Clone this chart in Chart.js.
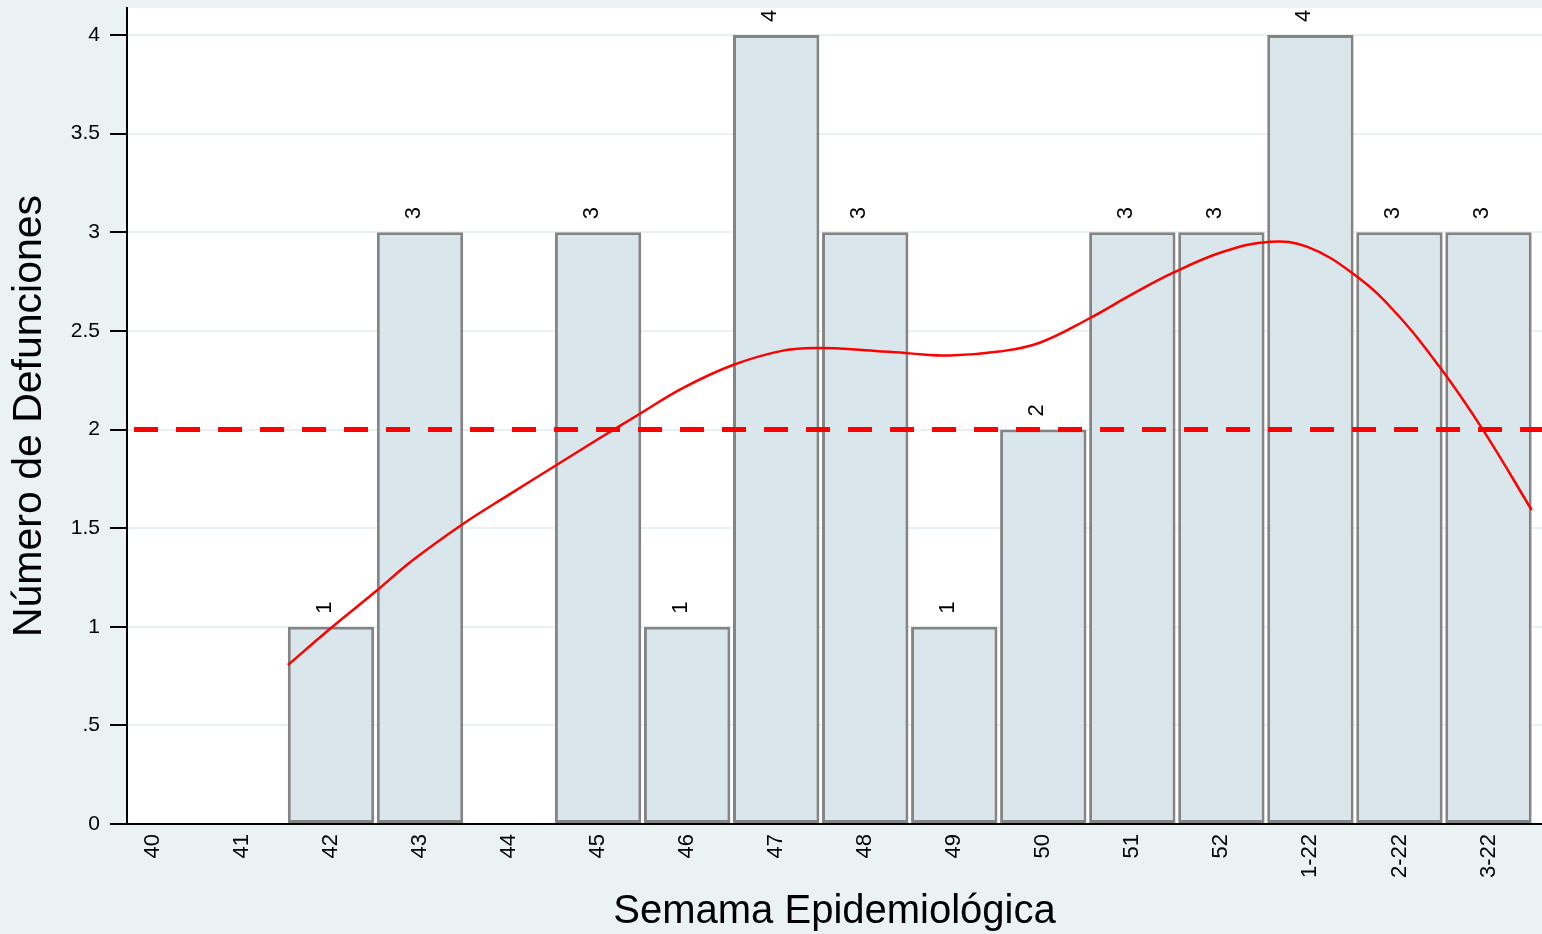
<!DOCTYPE html>
<html>
<head>
<meta charset="utf-8">
<script src="https://cdn.jsdelivr.net/npm/chart.js@4/dist/chart.umd.min.js"></script>
<style>
  html, body { margin: 0; padding: 0; background: #eaf2f3; overflow: hidden; }
  #wrap { width: 1542px; height: 934px; }
</style>
</head>
<body>
<div id="wrap"><canvas id="c" width="1542" height="934" style="width:1542px;height:934px"></canvas></div>
<script>
// ---- data ----
const categories = ['40','41','42','43','44','45','46','47','48','49','50','51','52','1-22','2-22','3-22'];
const deaths = [0,0,1,3,0,3,1,4,3,1,2,3,3,4,3,3];
// fitted curve (x = category position, y = value)
const curveX = [1.516,2.0,2.494,2.921,3.494,4.0,4.515,5.02,5.47,5.95,6.515,7.076,7.49,8.0,8.5,8.95,9.5,9.96,10.52,10.995,11.46,12.02,12.55,12.96,13.48,13.93,14.45,14.94,15.485];
const curveY = [0.806,0.994,1.176,1.338,1.525,1.67,1.815,1.957,2.08,2.21,2.327,2.40,2.413,2.402,2.386,2.375,2.395,2.44,2.564,2.685,2.795,2.901,2.952,2.927,2.79,2.606,2.318,1.997,1.592];
const thresholdValue = 2;
const yTicks = [0,0.5,1,1.5,2,2.5,3,3.5,4];
const yTickLabels = ['0','.5','1','1.5','2','2.5','3','3.5','4'];
const xTitle = 'Semama Epidemiológica';
const yTitle = 'Número de Defunciones';

const FONT = '"Liberation Sans", Arial, Helvetica, sans-serif';

const bgPlugin = {
  id: 'bg',
  beforeDraw(chart) {
    const {ctx, chartArea} = chart;
    ctx.save();
    ctx.fillStyle = '#eaf2f3';
    ctx.fillRect(0, 0, chart.width, chart.height);
    ctx.fillStyle = '#ffffff';
    ctx.fillRect(chartArea.left, chartArea.top, chart.width - chartArea.left, chartArea.bottom - chartArea.top);
    ctx.restore();
  }
};

const valueLabels = {
  id: 'valueLabels',
  afterDatasetsDraw(chart) {
    const {ctx} = chart;
    const idx = chart.data.datasets.findIndex(d => d.id === 'bars');
    const meta = chart.getDatasetMeta(idx);
    ctx.save();
    ctx.fillStyle = '#000';
    ctx.font = '22px ' + FONT;
    ctx.textAlign = 'left';
    ctx.textBaseline = 'alphabetic';
    meta.data.forEach((el, i) => {
      if (!(deaths[i] > 0)) return;
      ctx.save();
      ctx.translate(el.x, el.y - 13);
      ctx.rotate(-Math.PI / 2);
      ctx.fillText(String(deaths[i]), 0, 0);
      ctx.restore();
    });
    ctx.restore();
  }
};

const xMin = -0.291, xMax = 15.601;

new Chart(document.getElementById('c'), {
  type: 'bar',
  data: {
    datasets: [
      {
        id: 'threshold',
        type: 'line',
        data: [{x: -0.212, y: thresholdValue}, {x: xMax, y: thresholdValue}],
        borderColor: '#ff0000',
        borderWidth: 5,
        borderDash: [24, 18],
        pointRadius: 0,
        order: 1
      },
      {
        id: 'curve',
        type: 'line',
        data: curveX.map((x, i) => ({x: x, y: curveY[i]})),
        borderColor: '#ff0000',
        borderWidth: 2.5,
        pointRadius: 0,
        tension: 0.4,
        order: 2
      },
      {
        id: 'bars',
        type: 'bar',
        data: deaths.map((v, i) => ({x: i, y: v})),
        backgroundColor: '#d9e6ec',
        borderColor: '#848484',
        borderWidth: ctx => (ctx.raw && ctx.raw.y > 0) ? 3 : 0,
        borderSkipped: false,
        barPercentage: 0.97,
        categoryPercentage: 1,
        order: 3
      }
    ]
  },
  options: {
    responsive: false,
    animation: false,
    devicePixelRatio: 1,
    layout: { padding: { top: 8, right: 0, left: 0, bottom: 0 } },
    plugins: { legend: { display: false }, tooltip: { enabled: false } },
    scales: {
      x: {
        type: 'linear',
        offset: false,
        min: xMin,
        max: xMax,
        afterBuildTicks: s => { s.ticks = categories.map((_, i) => ({value: i})); },
        afterFit: s => { s.height = 110; s.paddingLeft = 0; s.paddingRight = 0; },
        grid: { display: false, drawTicks: false, offset: false },
        border: { display: true, color: '#000', width: 2 },
        ticks: {
          autoSkip: false,
          minRotation: 90,
          maxRotation: 90,
          padding: 10,
          color: '#000',
          font: { family: FONT, size: 22 },
          callback: v => categories[Math.round(v)]
        },
        title: {
          display: true,
          text: xTitle,
          color: '#000',
          font: { family: FONT, size: 40, lineHeight: 1.1 },
          padding: { top: 1, bottom: 0 }
        }
      },
      y: {
        type: 'linear',
        min: 0,
        max: 4.137,
        afterBuildTicks: s => { s.ticks = yTicks.map(v => ({value: v})); },
        afterFit: s => { s.width = 127; s.paddingTop = 0; s.paddingBottom = 0; },
        grid: {
          color: '#e8f0f2',
          lineWidth: 2,
          drawTicks: true,
          tickLength: 17,
          tickColor: '#000',
          tickWidth: 2
        },
        border: { display: true, color: '#000', width: 2 },
        ticks: {
          padding: 10,
          color: '#000',
          font: { family: FONT, size: 21 },
          callback: v => yTickLabels[yTicks.indexOf(v)]
        },
        title: {
          display: true,
          text: yTitle,
          color: '#000',
          font: { family: FONT, size: 41, lineHeight: 1.2 },
          padding: { top: 5, bottom: 0 }
        }
      }
    }
  },
  plugins: [bgPlugin, valueLabels]
});
</script>
</body>
</html>
